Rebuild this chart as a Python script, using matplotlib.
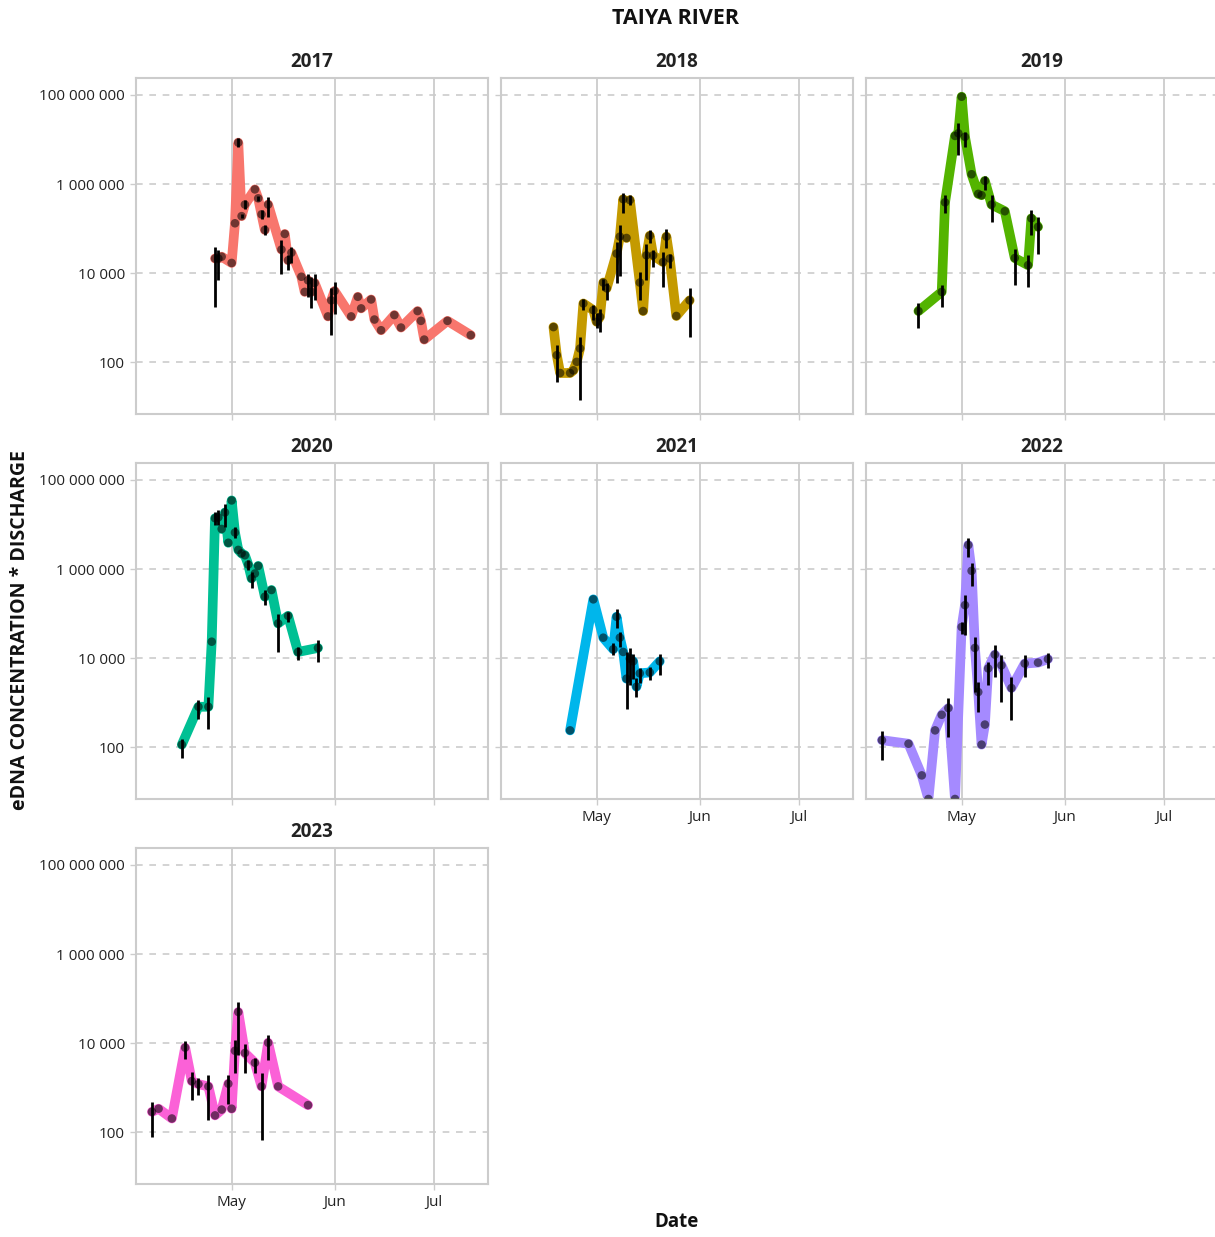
import numpy as np
import pandas as pd
import matplotlib
matplotlib.use("Agg")
import matplotlib.pyplot as plt
import matplotlib.dates as mdates
from matplotlib.ticker import FixedLocator, FuncFormatter

plt.rcParams['font.family'] = ['Open Sans', 'DejaVu Sans']

years = [2017, 2018, 2019, 2020, 2021, 2022, 2023]
colors = ['#F8766D', '#C49A00', '#53B400', '#00C094', '#00B6EB', '#A58AFF', '#FB61D7']

# sampling days (month-day) per season
days = {
    2017: ['04-26', '04-27', '04-28', '05-01', '05-02', '05-03', '05-04', '05-05', '05-08', '05-09',
           '05-10', '05-11', '05-12', '05-16', '05-17', '05-18', '05-19', '05-22', '05-23', '05-24',
           '05-25', '05-26', '05-30', '05-31', '06-01', '06-06', '06-08', '06-09', '06-12', '06-13',
           '06-15', '06-19', '06-21', '06-26', '06-27', '06-28', '07-05', '07-12'],
    2018: ['04-18', '04-19', '04-20', '04-23', '04-24', '04-25', '04-26', '04-27', '04-30', '05-01',
           '05-02', '05-03', '05-04', '05-07', '05-08', '05-09', '05-10', '05-11', '05-14', '05-15',
           '05-16', '05-17', '05-18', '05-21', '05-22', '05-23', '05-25', '05-29'],
    2019: ['04-18', '04-25', '04-26', '04-29', '04-30', '05-01', '05-02', '05-04', '05-06', '05-07',
           '05-08', '05-10', '05-14', '05-17', '05-21', '05-22', '05-24'],
    2020: ['04-16', '04-21', '04-24', '04-25', '04-26', '04-27', '04-28', '04-29', '04-30', '05-01',
           '05-02', '05-03', '05-04', '05-05', '05-06', '05-07', '05-08', '05-09', '05-11', '05-13',
           '05-15', '05-18', '05-21', '05-27'],
    2021: ['04-23', '04-30', '05-03', '05-06', '05-07', '05-08', '05-09', '05-10', '05-11', '05-12',
           '05-13', '05-14', '05-17', '05-20'],
    2022: ['04-07', '04-15', '04-19', '04-21', '04-23', '04-25', '04-27', '04-29', '05-01', '05-02',
           '05-03', '05-04', '05-05', '05-06', '05-07', '05-08', '05-09', '05-11', '05-13', '05-16',
           '05-20', '05-24', '05-27'],
    2023: ['04-07', '04-09', '04-13', '04-17', '04-19', '04-21', '04-24', '04-26', '04-28', '04-30',
           '05-01', '05-02', '05-03', '05-05', '05-08', '05-10', '05-12', '05-15', '05-24'],
}

# log10 of eDNA concentration * discharge
log_val = {
    2017: [4.33, 4.33, 4.37, 4.23, 5.12, 6.93, 5.28, 5.54, 5.88, 5.68, 5.32, 4.97, 5.54, 4.53, 4.88,
           4.29, 4.46, 3.92, 3.58, 3.84, 3.58, 3.78, 3.03, 3.39, 3.60, 3.03, 3.47, 3.21, 3.41, 2.96,
           2.72, 3.06, 2.78, 3.15, 2.93, 2.51, 2.93, 2.61],
    2018: [2.79, 2.16, 1.76, 1.76, 1.82, 2.01, 2.31, 3.32, 3.17, 2.91, 3.02, 3.79, 3.66, 4.44, 4.82,
           5.66, 4.79, 5.64, 3.79, 3.15, 4.40, 4.84, 4.40, 4.25, 4.82, 4.33, 3.04, 3.39],
    2019: [3.15, 3.58, 5.59, 7.08, 7.14, 7.96, 7.06, 6.22, 5.78, 5.75, 6.07, 5.54, 5.39, 4.34, 4.18,
           5.23, 5.04],
    2020: [2.06, 2.91, 2.91, 4.37, 7.14, 7.16, 6.90, 7.27, 6.59, 7.54, 6.82, 6.43, 6.35, 6.31, 6.10,
           5.79, 5.90, 6.07, 5.38, 5.53, 4.78, 4.95, 4.14, 4.23],
    2021: [2.38, 5.32, 4.46, 4.20, 4.93, 4.46, 4.14, 3.54, 3.99, 3.93, 3.36, 3.66, 3.68, 3.93],
    2022: [2.16, 2.08, 1.37, 0.84, 2.38, 2.73, 2.88, 0.84, 4.70, 5.19, 6.54, 5.96, 4.23, 3.24, 2.06,
           2.51, 3.77, 4.08, 3.84, 3.33, 3.88, 3.90, 3.98],
    2023: [2.46, 2.53, 2.31, 3.90, 3.15, 3.08, 3.03, 2.38, 2.51, 3.09, 2.53, 3.83, 4.70, 3.78, 3.56,
           3.03, 4.01, 3.03, 2.61],
}

# error bar reach above / below each sample, in decades
err_up = {
    2017: [.26, .19, 0, 0, 0, .10, .05, .10, 0, .05, .10, .11, .17, .21, 0, .11, .13, 0, 0, .15,
           .34, .21, 0, .27, .20, 0, 0, 0, 0, 0, 0, 0, 0, 0, 0, 0, 0, 0],
    2018: [0, .22, 0, 0, 0, 0, .26, .11, .11, .19, .17, .09, .11, .26, .26, .15, 0, .11, .24, 0,
           .26, .13, .11, .22, .17, .11, 0, .27],
    2019: [.17, .15, .16, 0, .22, 0, .11, 0, 0, 0, .10, .21, 0, .21, .22, .19, .23],
    2020: [.13, .15, .22, 0, .15, .16, 0, .18, 0, 0, .13, 0, 0, 0, .10, .15, 0, 0, .15, 0, .22, .09,
           .11, .17],
    2021: [0, 0, 0, .13, .17, .13, 0, .60, .23, .17, .19, .11, .13, .17],
    2022: [.20, 0, 0, 0, 0, 0, .23, 0, .11, .23, .15, .17, .25, .22, 0, 0, .15, .21, .24, .25, .19,
           0, .13],
    2023: [.22, 0, 0, .16, .21, .13, .25, 0, 0, .19, 0, .24, .23, .21, .10, .29, .17, 0, 0],
}
err_dn = {
    2017: [1.09, .49, 0, 0, 0, .09, .05, .10, 0, .05, .10, .11, .27, .54, 0, .22, .24, 0, 0, .37,
           .37, .39, 0, .78, .51, 0, 0, 0, 0, 0, 0, 0, 0, 0, 0, 0, 0, 0],
    2018: [0, .60, 0, 0, 0, 0, 1.16, .15, .22, .15, .34, .17, .26, .67, .89, .30, 0, .11, .40, 0,
           .56, .17, .26, .56, .26, .22, 0, .82],
    2019: [.39, .34, .25, 0, .49, 0, .22, 0, 0, 0, .21, .39, 0, .61, .50, .38, .60],
    2020: [.31, .27, .49, 0, .15, .17, 0, .32, 0, 0, .13, 0, 0, 0, .13, .22, 0, 0, .19, 0, .64, .13,
           .19, .31],
    2021: [0, 0, 0, .13, .26, .20, 0, .67, .60, .39, .22, .22, .17, .31],
    2022: [.45, 0, 0, 0, 0, 0, .65, 0, .15, .67, .26, .35, .99, .45, 0, 0, .37, .50, .82, .72, .30,
           0, .21],
    2023: [.56, 0, 0, .25, .43, .25, .75, 0, 0, .45, 0, .51, .97, .46, .24, 1.21, .39, 0, 0],
}

W, H = 1215, 1237
grid_col = '#cccccc'
col_x = [136, 501, 866]
row_y = [78, 463, 848]
pw, ph = 352, 336

fig = plt.figure(figsize=(W / 100, H / 100), dpi=100)

may1 = mdates.date2num(pd.Timestamp('2021-05-01'))
month_ticks = [mdates.date2num(pd.Timestamp(d)) for d in ['2021-05-01', '2021-06-01', '2021-07-01']]


def fmt_big(v, pos):
    return f"{int(round(v)):,}".replace(",", " ")


for i, yr in enumerate(years):
    r, c = divmod(i, 3)
    ax = fig.add_axes([col_x[c] / W, 1 - (row_y[r] + ph) / H, pw / W, ph / H])
    x = mdates.date2num(pd.to_datetime(['2021-' + d for d in days[yr]]))
    v = np.array(log_val[yr])
    up = np.array(err_up[yr])
    dn = np.array(err_dn[yr])

    ax.plot(x, 10 ** v, color=colors[i], lw=7, solid_joinstyle='round',
            solid_capstyle='round', zorder=2)
    has_err = (up + dn) > 0
    ax.vlines(x[has_err], 10 ** (v - dn)[has_err], 10 ** (v + up)[has_err],
              color='black', lw=2, zorder=3)
    ax.scatter(x, 10 ** v, s=38, color='black', alpha=0.55, edgecolors='none', zorder=4)

    ax.set_yscale('log')
    ax.set_ylim(10 ** 0.84, 10 ** 8.38)
    ax.set_xlim(may1 - 28.8, may1 + 77.2)
    ax.yaxis.set_major_locator(FixedLocator([1e2, 1e4, 1e6, 1e8]))
    ax.yaxis.set_minor_locator(FixedLocator([]))
    ax.yaxis.set_major_formatter(FuncFormatter(fmt_big))
    ax.xaxis.set_major_locator(FixedLocator(month_ticks))
    ax.xaxis.set_major_formatter(mdates.DateFormatter('%b'))

    ax.grid(True, axis='y', color=grid_col, lw=1.2, ls=(0, (4, 4)))
    ax.grid(True, axis='x', color=grid_col, lw=1.3)
    ax.set_axisbelow(True)
    for s in ax.spines.values():
        s.set_color(grid_col)
        s.set_linewidth(1.5)
    ax.tick_params(colors=grid_col, length=4, width=1, labelcolor='#222222', labelsize=11, pad=4)

    if c != 0:
        ax.tick_params(axis='y', labelleft=False)
    if i < 4:
        ax.tick_params(axis='x', labelbottom=False)

    ax.set_title(str(yr), fontsize=13.5, fontweight='bold', color='#222222', pad=8)

fig.text(676 / W, 1 - 18 / H, 'TAIYA RIVER', ha='center', va='center',
         fontsize=15.5, fontweight='bold', color='#111111')
fig.text(20 / W, 1 - 630 / H, 'eDNA CONCENTRATION * DISCHARGE', ha='center', va='center',
         rotation=90, fontsize=14, fontweight='bold', color='#111111')
fig.text(676 / W, 1 - 1222 / H, 'Date', ha='center', va='center',
         fontsize=13.5, fontweight='bold', color='#111111')

fig.savefig('out.png', dpi=100)
